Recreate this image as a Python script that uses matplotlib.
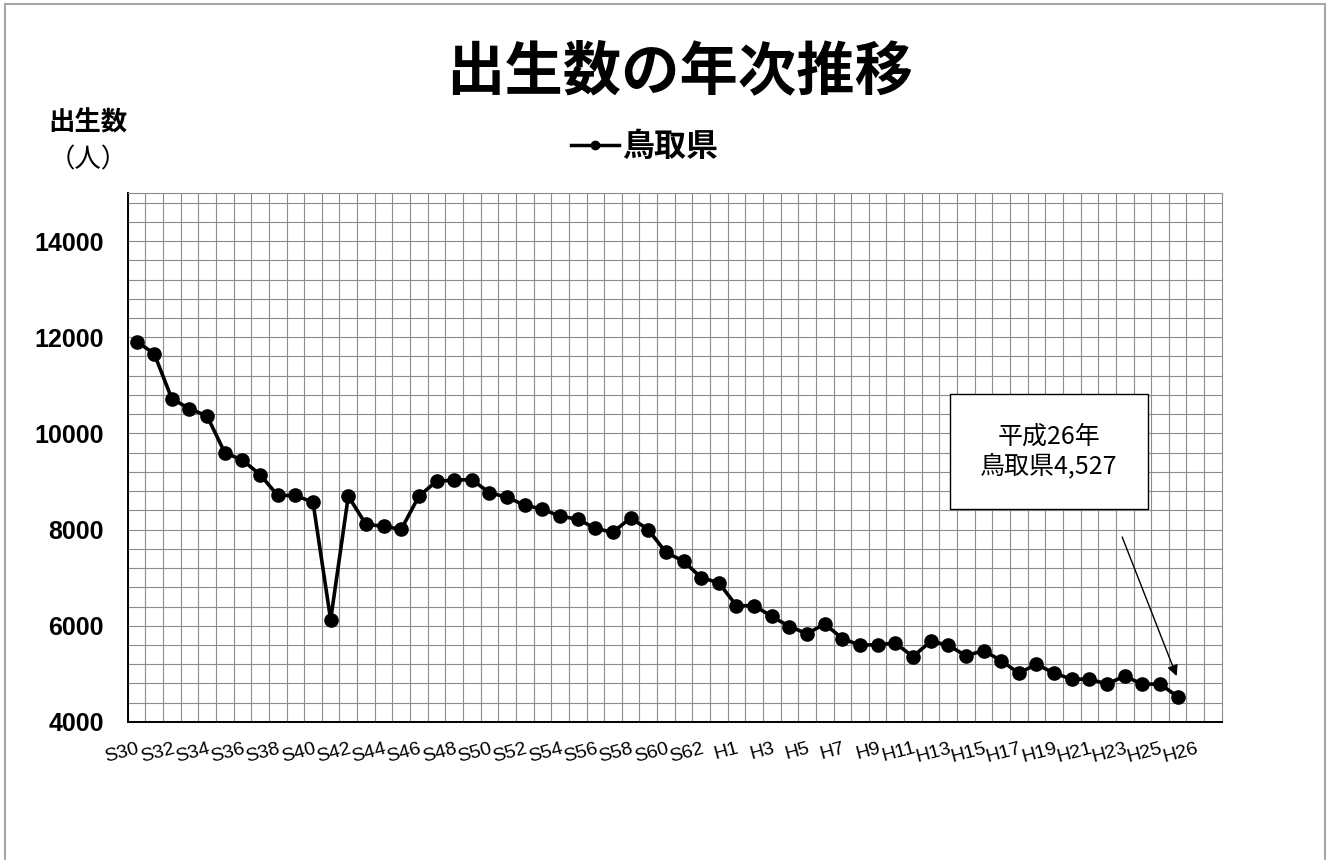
import matplotlib
matplotlib.use('Agg')
import matplotlib.pyplot as plt
from matplotlib.lines import Line2D
from matplotlib.patches import Rectangle

plt.rcParams['font.family'] = ['Noto Sans CJK JP', 'DejaVu Sans']

# 年 (S30 = 1955 ... H26 = 2014)
years = ['S%d' % y for y in range(30, 64)] + ['H%d' % y for y in range(1, 27)]

# 鳥取県の出生数（人）
births = [11910, 11660, 10720, 10515, 10360, 9600, 9445, 9145, 8710, 8710,
          8570, 6125, 8695, 8110, 8070, 8005, 8695, 9005, 9030, 9040,
          8765, 8675, 8505, 8430, 8275, 8220, 8025, 7945, 8245, 8000,
          7525, 7345, 7000, 6895, 6415, 6420, 6195, 5985, 5835, 6040,
          5735, 5595, 5610, 5640, 5360, 5675, 5600, 5375, 5485, 5275,
          5015, 5200, 5015, 4890, 4890, 4790, 4955, 4785, 4790, 4527]

tick_pos = list(range(0, 59, 2)) + [60]
tick_text = years[0:59:2] + ['H26']

fig = plt.figure(figsize=(13.29, 8.6), dpi=100)
ax = fig.add_axes([0.0961, 0.1605, 0.8232, 0.6151])

# --- grid (minor lines every 400, one per category slot) ---
for v in range(4000, 15001, 400):
    ax.axhline(v, color='#8c8c8c', lw=0.8, zorder=0)
for k in range(62):
    ax.axvline(k - 0.5, color='#8c8c8c', lw=0.8, zorder=0)

ax.plot(range(len(births)), births, color='black', lw=2.6,
        marker='o', ms=9.5, label='鳥取県', zorder=3)

ax.set_xlim(-0.5, 61.5)
ax.set_ylim(4000, 15000)
ax.set_yticks(range(4000, 14001, 2000))
ax.tick_params(axis='y', length=0, pad=17)
for t in ax.get_yticklabels():
    t.set_fontfamily(['Liberation Sans', 'DejaVu Sans'])
    t.set_fontsize(18)
    t.set_fontweight('bold')
ax.set_xticks(tick_pos)
ax.set_xticklabels(tick_text, rotation=15, ha='right', va='top',
                   rotation_mode='anchor', fontsize=14,
                   family=['Liberation Sans', 'DejaVu Sans'])
ax.tick_params(axis='x', length=0, pad=13)

for s in ['left', 'bottom']:
    ax.spines[s].set_color('black')
    ax.spines[s].set_linewidth(1.4)
for s in ['top', 'right']:
    ax.spines[s].set_color('#8c8c8c')
    ax.spines[s].set_linewidth(0.8)

# --- annotation ---
ax.text(51.7, 9625, '平成26年\n鳥取県4,527', ha='center', va='center',
        fontsize=18, linespacing=1.15, zorder=5,
        bbox=dict(boxstyle='square,pad=1.2', fc='white', ec='black', lw=1))
ax.annotate('', xy=(59, 4900), xytext=(55.8, 7900),
            arrowprops=dict(arrowstyle='-|>', color='black', lw=1,
                            mutation_scale=16), zorder=5)

# --- titles / labels ---
fig.text(680 / 1329, 1 - 72 / 860, '出生数の年次推移', ha='center', va='center',
         fontsize=42, weight='bold')
fig.text(88 / 1329, 1 - 123 / 860, '出生数', ha='center', va='center',
         fontsize=19, weight='bold')
fig.text(88 / 1329, 1 - 160 / 860, '（人）', ha='center', va='center',
         fontsize=19)

handle = Line2D([], [], color='black', lw=2.5, marker='o', ms=6)
fig.legend(handles=[handle], labels=['鳥取県'], loc='center',
           bbox_to_anchor=(645 / 1329, 1 - 147 / 860), frameon=False,
           prop=dict(size=23, weight='bold'), handlelength=1.5,
           handletextpad=0.1)

# outer frame
fig.patches.append(Rectangle((5 / 1329, -0.1), 1320 / 1329, 1.0953,
                             transform=fig.transFigure, fill=False,
                             ec='#a6a6a6', lw=1.5))

fig.savefig('out.png', dpi=100)
